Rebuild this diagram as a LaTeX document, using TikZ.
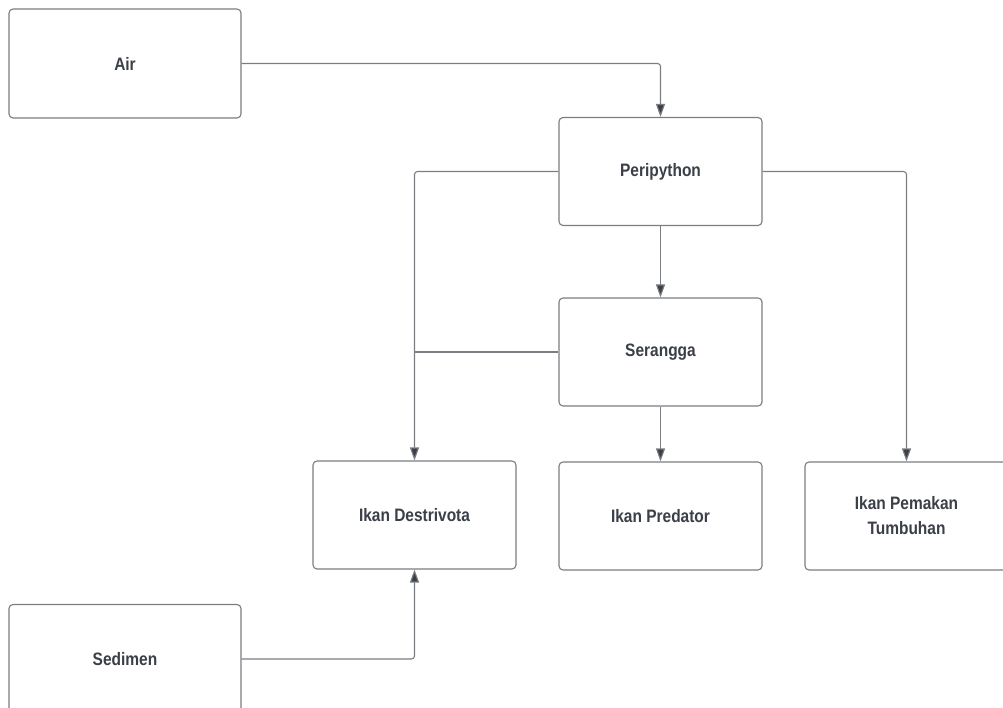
\documentclass[tikz,border=0pt]{standalone}
\usepackage{fontspec}
\setmainfont{Liberation Sans}[FakeStretch=0.86]
\usetikzlibrary{arrows.meta}
\definecolor{boxline}{HTML}{7A7D82}
\definecolor{txt}{HTML}{3A3F48}
\definecolor{arr}{HTML}{3A3F48}
\tikzset{
  box/.style={draw=boxline, line width=1.1pt, rounded corners=4pt, fill=white,
    minimum width=203pt, minimum height=108pt, inner sep=0pt, align=center,
    text=txt, font=\fontsize{18}{25}\selectfont\bfseries},
  wbox/.style={box, minimum width=232pt, minimum height=109pt},
  conn/.style={draw=boxline, line width=1.1pt, rounded corners=3pt},
  arrowc/.style={conn, -{Triangle[width=9pt,length=13pt,fill=arr]}}
}
\begin{document}
\begin{tikzpicture}[x=1pt,y=-1pt]
\useasboundingbox (0,0) rectangle (1003,708);
\clip (0,0) rectangle (1003,708);
\node[wbox] (air) at (125,63.5) {Air};
\node[box] (peri) at (660.5,171.5) {Peripython};
\node[box] (ser) at (660.5,352) {Serangga};
\node[box] (des) at (414.5,515) {Ikan Destrivota};
\node[box] (pred) at (660.5,516) {Ikan Predator};
\node[box] (pem) at (906.5,516) {Ikan Pemakan\\Tumbuhan};
\node[wbox] (sed) at (125,659) {Sedimen};
\draw[arrowc] (air.east) -| (peri.north);
\draw[arrowc] (peri.west) -| (des.north);
\draw[conn] (ser.west) -- (des.north |- ser.west);
\draw[arrowc] (peri.south) -- (ser.north);
\draw[arrowc] (ser.south) -- (pred.north);
\draw[arrowc] (peri.east) -| (pem.north);
\draw[arrowc] (sed.east) -| (des.south);
\end{tikzpicture}
\end{document}
